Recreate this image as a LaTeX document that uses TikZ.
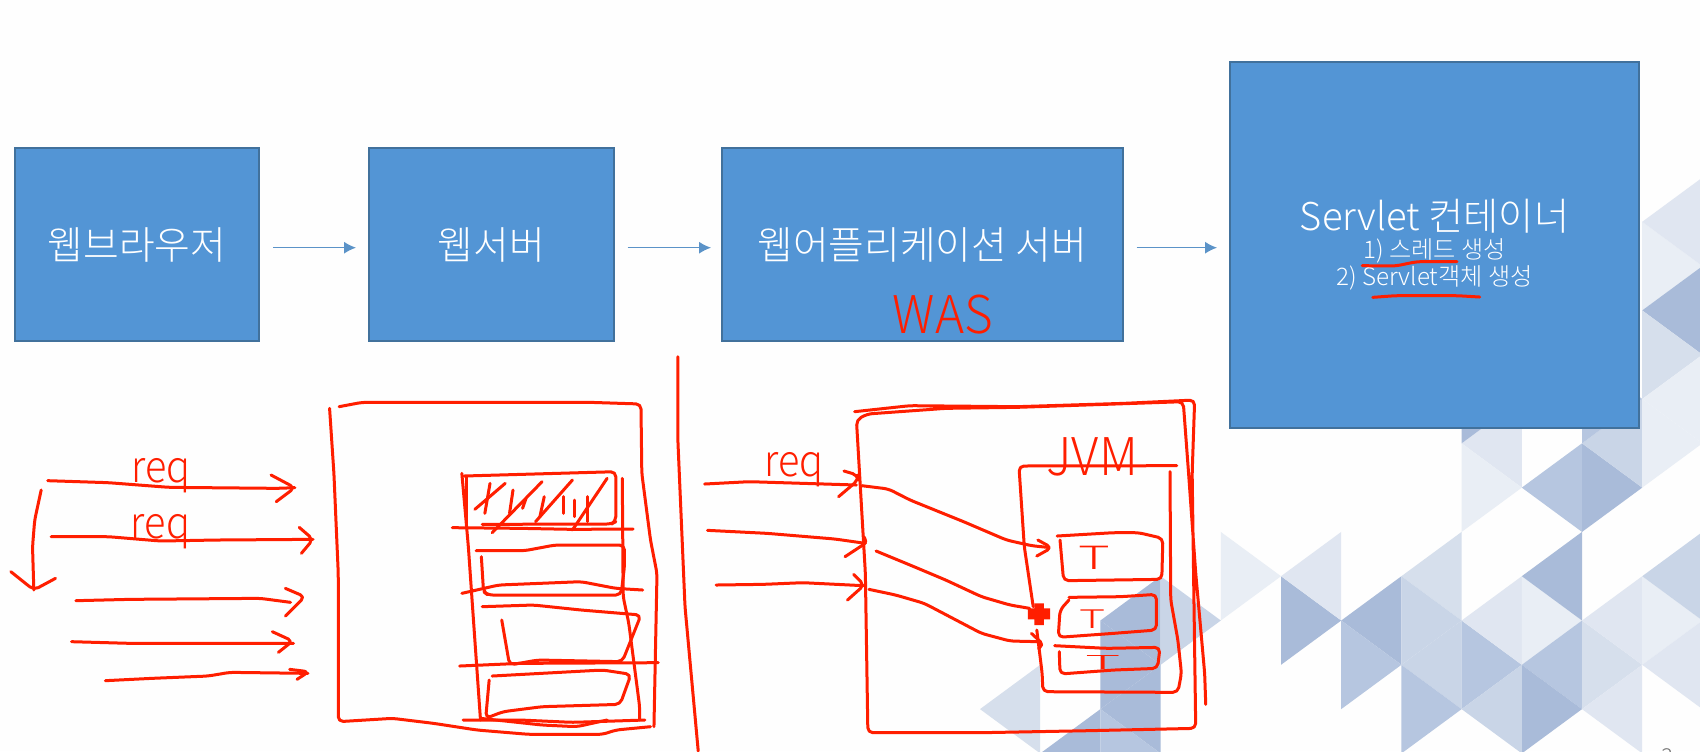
\documentclass[tikz,border=0pt]{standalone}
\usepackage{fontspec}
\setmainfont{Noto Sans CJK KR Light}
\usetikzlibrary{positioning,arrows.meta}
\definecolor{boxblue}{HTML}{5395D5}
\definecolor{boxline}{HTML}{41719C}
\definecolor{flowblue}{HTML}{5B93C8}
\definecolor{penred}{HTML}{FF1E00}
\definecolor{triDark}{HTML}{A9BBD9}
\definecolor{triDeep}{HTML}{B6C6E0}
\definecolor{triMid}{HTML}{C9D5E7}
\definecolor{triSoft}{HTML}{D6DFEC}
\definecolor{triPale}{HTML}{E0E6F1}
\definecolor{triFaint}{HTML}{E9EEF5}
\tikzset{
  boxnode/.style={draw=boxline,line width=1pt,fill=boxblue,text=white,inner sep=0pt,
    outer sep=0pt,minimum height=96.3pt,font=\fontsize{19.4}{22}\selectfont,align=center},
  flow/.style={draw=flowblue,line width=.6pt,-{Latex[length=6pt,width=6pt]},
    shorten <=7pt,shorten >=6.5pt},
  redpen/.style={draw=penred,line width=1.5pt,line cap=round,line join=round,rounded corners=2.5pt},
  handtext/.style={text=penred,inner sep=0pt}
}
\begin{document}
\begin{tikzpicture}[x=.5pt,y=-.5pt]
\useasboundingbox (0,0) rectangle (1700,751);
\fill[white!99.5!black] (0,0) rectangle (1700,751);
% slide background
\foreach \i/\j/\d/\tc in {
  8/-1/-1/triPale,7/-2/1/triDark,7/0/1/triFaint,9/0/-1/triDeep,9/0/1/triDark,
  10/-1/-1/triMid,9/-2/1/triDeep,10/-1/1/triFaint,7/2/-1/triSoft,6/3/-1/triDark,
  6/3/1/triMid,4/3/1/triDark,5/2/-1/triPale,3/2/1/triFaint,5/4/1/triDeep,
  7/4/-1/triMid,7/4/1/triDeep,8/3/-1/triPale,8/3/1/triFaint,9/2/-1/triDark,
  9/4/-1/triDeep,8/5/1/triDark,8/5/-1/triMid,6/5/1/triDeep,9/4/1/triSoft,
  10/3/-1/triPale,10/3/1/triFaint,11/2/-1/triMid,10/5/-1/triPale,11/4/-1/triPale,
  2/3/-1/triDark,2/3/1/triMid,1/4/1/triDark,2/5/-1/triDark,1/6/-1/triDark,
  1/6/1/triDeep,0/5/-1/triSoft,
  10/-5/1/triFaint,11/-6/-1/triPale,11/-4/-1/triDark,10/-3/1/triSoft,11/-2/-1/triFaint}
  \fill[fill=\tc] ({1040.2+60.2*\i},{443.3+44.3*\j}) -- ({1040.2+60.2*\i},{443.3+44.3*(\j+2)})
    -- ({1040.2+60.2*(\i+\d)},{443.3+44.3*(\j+1)}) -- cycle;
\node (pageno) at (1667,757) {\fontsize{11}{13}\selectfont\textcolor{black!55}{3}};
% slide boxes
\node[boxnode,minimum width=122pt] (browser) at (137,244.5) {웹브라우저};
\node[boxnode,minimum width=122.3pt,right=55pt of browser] (webserver) {웹서버};
\node[boxnode,minimum width=200.3pt,right=54.2pt of webserver] (was) {웹어플리케이션 서버};
\node[boxnode,minimum width=204.5pt,minimum height=183pt,right=53.7pt of was] (container)
  {{\fontsize{19.1}{22}\selectfont Servlet 컨테이너}\\[-7.7pt]
   {\fontsize{12.1}{13}\selectfont 1) 스레드 생성}\\[-8.5pt]
   {\fontsize{12.1}{13}\selectfont 2) Servlet객체 생성}};
\draw[flow] ([yshift=-1.6pt]browser.east) -- ([yshift=-1.6pt]webserver.west);
\draw[flow,shorten >=5.5pt] ([yshift=-1.6pt]webserver.east) -- ([yshift=-1.6pt]was.west);
\draw[flow] ([yshift=-1.6pt]was.east) -- ([yshift=-1.6pt]container.west);
\node[handtext,xscale=.95,font=\fontsize{26}{26}\selectfont] (wasnote) at (943,315) {WAS};
% underlines on the container box
\begin{scope}[shift={(1150,40)},x=.17538pt,y=-.16667pt]
  \draw[redpen] (605,677) -- (700,678) -- (760,665) -- (875,665);
  \draw[redpen] (635,772) -- (700,767) -- (875,767) -- (940,771);
\end{scope}
% left sketch: web server
\begin{scope}[shift={(0,340)},x=.21683pt,y=-.16667pt]
  \node[handtext,xscale=.9,font=\fontsize{22}{22}\selectfont] (reqa) at (372,406) {req};
  \node[handtext,xscale=.9,font=\fontsize{22}{22}\selectfont] (reqb) at (370,575) {req};
  \draw[redpen] (110,422) -- (250,428) -- (390,442) -- (640,445) -- (680,443);
  \draw[redpen] (625,405) -- (680,443) -- (637,485);
  \draw[redpen] (95,450) -- (80,540) -- (75,620) -- (78,750);
  \draw[redpen] (25,695) -- (78,750) -- (128,715);
  \draw[redpen] (118,590) -- (250,590) -- (370,603) -- (500,600) -- (722,598);
  \draw[redpen] (690,562) -- (722,598) -- (695,640);
  \draw[redpen] (175,782) -- (300,778) -- (600,775) -- (670,787);
  \draw[redpen] (658,745) -- (703,770) -- (658,828);
  \draw[redpen] (165,905) -- (300,910) -- (480,910) -- (677,910);
  \draw[redpen] (628,875) -- (675,903) -- (642,937);
  \draw[redpen] (243,1022) -- (350,1015) -- (480,1008) -- (530,997) -- (710,1000);
  \draw[redpen] (668,988) -- (712,995) -- (685,1018);
  % outer frame
  \draw[redpen] (760,205) -- (770,400) -- (780,700) -- (780,1145) -- (905,1135) -- (1000,1150)
    -- (1100,1170) -- (1220,1183) -- (1390,1183) -- (1420,1170) -- (1500,1160);
  \draw[redpen] (782,200) -- (835,187) -- (1360,187) -- (1478,192) -- (1480,400) -- (1500,600)
    -- (1515,700) -- (1508,1160);
  % stack
  \draw[redpen] (1065,400) -- (1080,620) -- (1095,900) -- (1108,1140);
  \draw[redpen] (1435,415) -- (1437,770) -- (1450,850) -- (1475,1100) -- (1475,1140);
  \draw[redpen] (1075,410) -- (1075,565);
  \draw[redpen] (1070,408) -- (1420,395) -- (1420,545) -- (1410,552) -- (1112,553);
  \foreach \ax/\ay/\bx/\by in {1095/508/1165/430,1130/430/1118/520,1183/450/1175/520,
    1250/425/1135/578,1320/420/1235/545,1255/470/1245/530,1300/470/1300/520,
    1325/480/1325/530,1355/470/1355/545,1400/415/1320/570,1213/475/1205/505}
    \draw[redpen] (\ax,\ay) -- (\bx,\by);
  \draw[redpen] (1043,563) -- (1200,565) -- (1320,568) -- (1460,567);
  \draw[redpen] (1098,632) -- (1210,632) -- (1280,615) -- (1440,615) -- (1440,680) -- (1432,765)
    -- (1125,765) -- (1115,755) -- (1110,650);
  \draw[redpen] (1065,760) -- (1150,735) -- (1340,725) -- (1420,745) -- (1482,750);
  \draw[redpen] (1112,800) -- (1230,795) -- (1340,810) -- (1478,825) -- (1435,965) -- (1240,960)
    -- (1175,975) -- (1157,840);
  \draw[redpen] (1060,978) -- (1200,970) -- (1518,968);
  \draw[redpen] (1135,1008) -- (1390,990) -- (1455,1003) -- (1430,1093) -- (1250,1100)
    -- (1160,1115) -- (1120,1135) -- (1128,1020);
  \draw[redpen] (1068,1140) -- (1200,1140) -- (1320,1147) -- (1487,1140);
  \draw[redpen] (1108,1135) -- (1250,1155) -- (1330,1160) -- (1400,1140);
\end{scope}
% right sketch: WAS and JVM
\begin{scope}[shift={(660,340)},x=.17857pt,y=-.16667pt]
  \node[handtext,xscale=.9,font=\fontsize{22}{22}\selectfont] (reqc) at (375,388) {req};
  \node[handtext,xscale=.95,font=\fontsize{26}{26}\selectfont] (jvm) at (1210,352) {JVM};
  \draw[redpen] (50,50) -- (50,300) -- (70,800) -- (107,1233);
  \draw[redpen] (125,432) -- (250,425) -- (400,430) -- (550,435);
  \draw[redpen] (515,393) -- (553,405) -- (555,420) -- (500,470);
  \draw[redpen] (133,571) -- (300,580) -- (490,597) -- (575,610);
  \draw[redpen] (570,590) -- (582,605) -- (518,650);
  \draw[redpen] (157,735) -- (290,733) -- (400,728) -- (570,737);
  \draw[redpen] (542,703) -- (572,735) -- (525,780);
  % outer frame
  \draw[redpen] (545,215) -- (700,197) -- (1000,200) -- (1300,190) -- (1497,180) -- (1490,400)
    -- (1500,1165) -- (1200,1172) -- (900,1178) -- (582,1178) -- (575,700) -- (550,240)
    -- (580,222) -- (800,205) -- (1000,202) -- (1465,185) -- (1480,400) -- (1500,700)
    -- (1525,1000) -- (1528,1093);
  % JVM box
  \draw[redpen] (1447,377) -- (1005,378) -- (1020,620) -- (1045,800);
  \draw[redpen] (1055,870) -- (1070,1000) -- (1072,1055) -- (1450,1057) -- (1460,1000)
    -- (1450,900) -- (1430,780) -- (1428,395);
  % requests to threads
  \draw[redpen] (565,437) -- (640,447) -- (700,480) -- (850,545) -- (970,600) -- (1040,617) -- (1085,622);
  \draw[redpen] (1058,600) -- (1097,623) -- (1055,648);
  \draw[redpen] (605,633) -- (700,675) -- (800,720) -- (900,770) -- (980,795) -- (1035,805);
  \draw[redpen] (585,748) -- (660,765) -- (740,790) -- (820,835) -- (900,880) -- (980,903) -- (1060,905);
  \draw[redpen] (1040,880) -- (1075,915) -- (1060,925);
  % threads
  \draw[redpen] (1112,588) -- (1270,578) -- (1340,578) -- (1408,595) -- (1405,718) -- (1130,722) -- (1120,600);
  \draw[redpen] (1145,772) -- (1290,770) -- (1390,763) -- (1390,870) -- (1270,880) -- (1115,892)
    -- (1120,810) -- (1145,780);
  \draw[redpen] (1105,917) -- (1250,925) -- (1400,922) -- (1393,985) -- (1270,990) -- (1120,1002) -- (1118,935);
  \node[handtext,xscale=1.7,font=\fontsize{16}{16}\selectfont] (threada) at (1215,652) {T};
  \node[handtext,xscale=1.4,yscale=.8,font=\fontsize{16}{16}\selectfont] (threadb) at (1210,838) {T};
  \node[handtext,xscale=1.9,yscale=.6,font=\fontsize{16}{16}\selectfont] (threadc) at (1240,968) {T};
  % mouse cursor
  \fill[penred] (1048,790) -- (1075,790) -- (1075,805) -- (1092,805) -- (1092,838) -- (1075,838)
    -- (1075,855) -- (1048,855) -- (1048,838) -- (1030,838) -- (1030,805) -- (1048,805) -- cycle;
\end{scope}
\end{tikzpicture}
\end{document}
